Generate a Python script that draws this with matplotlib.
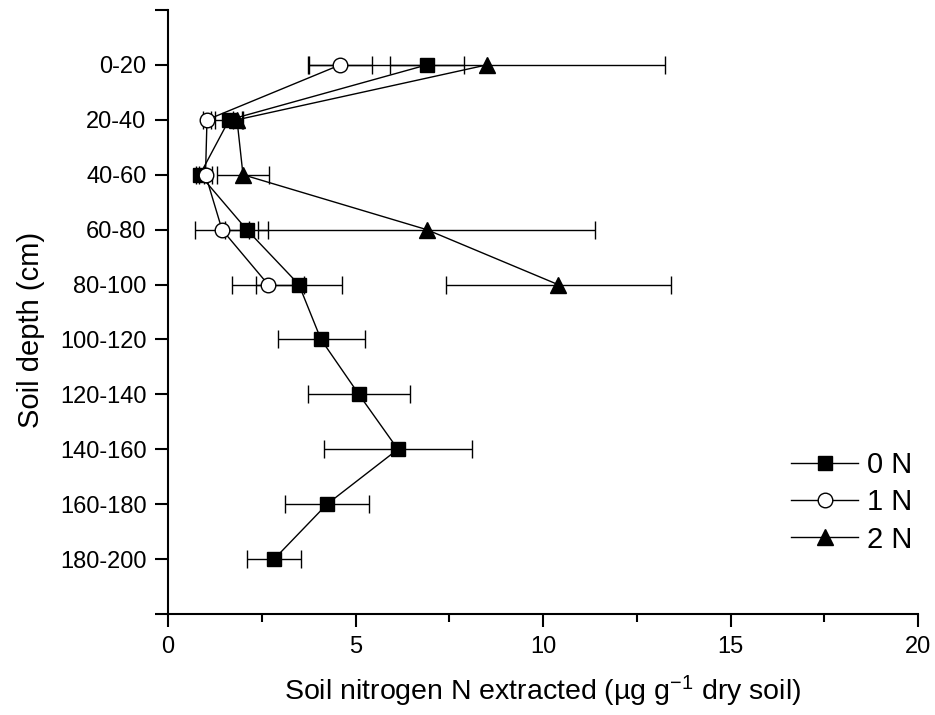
import matplotlib.pyplot as plt
from matplotlib.ticker import MultipleLocator

plt.rcParams['font.family'] = ['Liberation Sans', 'DejaVu Sans']
plt.rcParams['mathtext.fontset'] = 'custom'
plt.rcParams['mathtext.rm'] = 'Liberation Sans'
plt.rcParams['mathtext.it'] = 'Liberation Sans:italic'

# Soil depth classes (cm), top to bottom
depths = ["0-20", "20-40", "40-60", "60-80", "80-100",
          "100-120", "120-140", "140-160", "160-180", "180-200"]

# Extracted soil N (ug/g dry soil) and error for each N treatment
n0 = [6.9, 1.63, 0.85, 2.1, 3.49, 4.08, 5.09, 6.13, 4.24, 2.83]
n0_err = [0.99, 0.38, 0.1, 0.57, 1.15, 1.16, 1.36, 1.97, 1.12, 0.72]

n1 = [4.59, 1.04, 1.0, 1.44, 2.67]
n1_err = [0.85, 0.1, 0.18, 0.72, 0.96]

n2 = [8.5, 1.84, 2.0, 6.9, 10.4]
n2_err = [4.75, 0.12, 0.7, 4.49, 3.0]

pos = list(range(1, len(depths) + 1))

fig = plt.figure(figsize=(9.35, 7.15), dpi=100)
ax = fig.add_axes([168 / 935, 1 - 614 / 715, 750 / 935, 604 / 715])

series = [
    (n0, n0_err, 's', 'black', 10.5, '0 N'),
    (n1, n1_err, 'o', 'white', 10.5, '1 N'),
    (n2, n2_err, '^', 'black', 12, '2 N'),
]

# error bars underneath everything
for vals, err, mk, fc, ms, lab in series:
    ax.errorbar(vals, pos[:len(vals)], xerr=err, fmt='none', ecolor='black',
                elinewidth=1, capsize=6.5, capthick=1, zorder=2)

handles = []
for vals, err, mk, fc, ms, lab in series:
    h, = ax.plot(vals, pos[:len(vals)], color='black', lw=1, marker=mk,
                 markersize=ms, markerfacecolor=fc, markeredgecolor='black',
                 markeredgewidth=1, label=lab, zorder=3)
    handles.append(h)

ax.set_xlim(0, 20)
ax.set_ylim(11, 0)
ax.set_yticks(range(0, 12))
ax.set_yticklabels([""] + depths + [""])
ax.xaxis.set_major_locator(MultipleLocator(5))
ax.xaxis.set_minor_locator(MultipleLocator(2.5))

for side in ['top', 'right']:
    ax.spines[side].set_visible(False)
for side in ['left', 'bottom']:
    ax.spines[side].set_linewidth(1.5)

ax.tick_params(axis='both', which='major', direction='out', length=9.5,
               width=1.5, labelsize=17, pad=6)
ax.tick_params(axis='x', which='minor', direction='out', length=6, width=1.5)

ax.set_xlabel("Soil nitrogen N extracted (µg g$^{-1}$ dry soil)", fontsize=20.5,
              labelpad=12)
ax.set_ylabel("Soil depth (cm)", fontsize=21)
ax.yaxis.set_label_coords(-0.164, 0.47)

ax.legend(handles=handles, loc='upper left', bbox_to_anchor=(0.831, 0.27),
          frameon=False, fontsize=21, handlelength=2.3, handletextpad=0.3,
          labelspacing=0.32, borderpad=0, borderaxespad=0)

fig.savefig("out.png", dpi=100)
